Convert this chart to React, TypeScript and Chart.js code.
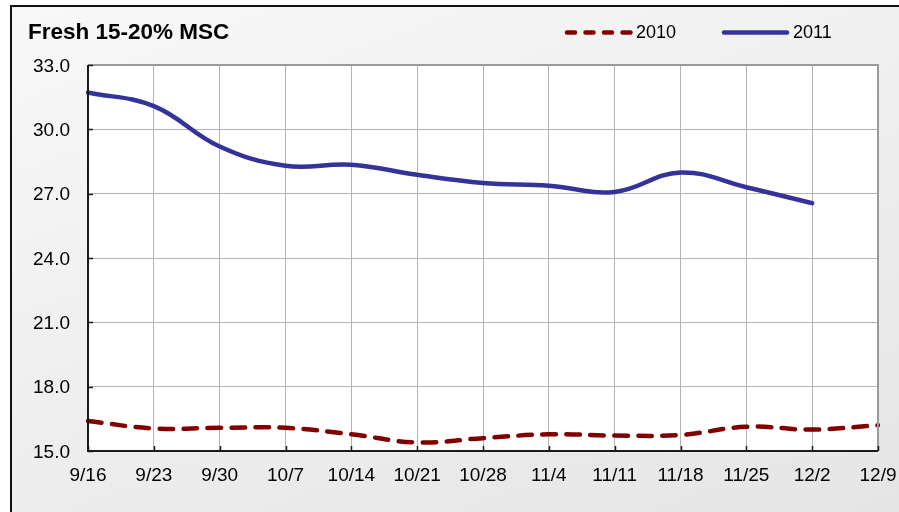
import React, { useEffect, useRef } from "react";
import { Chart, registerables } from "chart.js";

Chart.register(...registerables);

const TITLE = "Fresh 15-20% MSC";
const CATEGORIES = ["9/16", "9/23", "9/30", "10/7", "10/14", "10/21", "10/28", "11/4", "11/11", "11/18", "11/25", "12/2", "12/9"];
const SERIES_2010 = [16.4, 16.05, 16.08, 16.08, 15.78, 15.4, 15.6, 15.78, 15.72, 15.75, 16.13, 16.0, 16.2];
const SERIES_2011 = [31.72, 31.08, 29.2, 28.3, 28.35, 27.88, 27.5, 27.37, 27.08, 27.99, 27.3, 26.56, null];
const Y_MIN = 15;
const Y_MAX = 33;
const Y_STEP = 3;

const RED = "#800000";
const BLUE = "#333399";
const FONT = "'Liberation Sans', Arial, sans-serif";

const framePlugin = {
  id: "framePlugin",
  beforeDraw(chart: any) {
    const { ctx, chartArea: a } = chart;
    ctx.save();
    ctx.fillStyle = "#ffffff";
    ctx.fillRect(a.left, a.top, a.right - a.left, a.bottom - a.top);
    ctx.restore();
  },
  afterDatasetsDraw(chart: any) {
    const { ctx, chartArea: a, scales } = chart;
    ctx.save();
    ctx.strokeStyle = "#9a9a9a";
    ctx.lineWidth = 2;
    ctx.beginPath();
    ctx.moveTo(a.left, a.top);
    ctx.lineTo(a.right, a.top);
    ctx.lineTo(a.right, a.bottom);
    ctx.stroke();
    ctx.strokeStyle = "#1a1a1a";
    ctx.lineWidth = 2;
    ctx.beginPath();
    ctx.moveTo(a.left, a.top);
    ctx.lineTo(a.left, a.bottom);
    ctx.lineTo(a.right, a.bottom);
    ctx.stroke();
    ctx.lineWidth = 1.5;
    const y = scales.y;
    for (let v = Y_MIN; v <= Y_MAX; v += Y_STEP) {
      const py = Math.round(y.getPixelForValue(v)) + 0.5;
      ctx.beginPath();
      ctx.moveTo(a.left, py);
      ctx.lineTo(a.left + 5, py);
      ctx.stroke();
    }
    const x = scales.x;
    CATEGORIES.forEach((_, i) => {
      const px = Math.round(x.getPixelForValue(i)) + 0.5;
      ctx.beginPath();
      ctx.moveTo(px, a.bottom);
      ctx.lineTo(px, a.bottom - 5);
      ctx.stroke();
    });
    ctx.restore();
  },
  afterDraw(chart: any) {
    const { ctx } = chart;
    const ds = chart.data.datasets;
    const items = [
      { x0: 567, x1: 631, tx: 636, ds: ds[0], dash: [8, 10.5] },
      { x0: 724, x1: 787, tx: 793, ds: ds[1], dash: [] },
    ];
    const cy = 32.5;
    ctx.save();
    ctx.font = `18px ${FONT}`;
    ctx.textBaseline = "middle";
    ctx.textAlign = "left";
    items.forEach((it) => {
      ctx.strokeStyle = it.ds.borderColor;
      ctx.lineWidth = 4.5;
      ctx.lineCap = "round";
      ctx.setLineDash(it.dash);
      ctx.beginPath();
      ctx.moveTo(it.x0, cy);
      ctx.lineTo(it.x1, cy);
      ctx.stroke();
      ctx.setLineDash([]);
      ctx.fillStyle = "#000000";
      ctx.fillText(it.ds.label, it.tx, cy + 1);
    });
    ctx.restore();
  },
};

export default function App() {
  const ref = useRef<HTMLCanvasElement | null>(null);

  useEffect(() => {
    if (!ref.current) return;
    const chart = new Chart(ref.current, {
      type: "line",
      data: {
        labels: CATEGORIES,
        datasets: [
          {
            label: "2010",
            data: SERIES_2010,
            borderColor: RED,
            backgroundColor: RED,
            borderWidth: 4.5,
            borderDash: [13.5, 10.5],
            borderCapStyle: "round",
            pointRadius: 0,
            tension: 0.4,
            fill: false,
          },
          {
            label: "2011",
            data: SERIES_2011,
            borderColor: BLUE,
            backgroundColor: BLUE,
            borderWidth: 4.5,
            borderCapStyle: "round",
            pointRadius: 0,
            tension: 0.4,
            fill: false,
            spanGaps: false,
          },
        ],
      },
      options: {
        responsive: false,
        animation: false,
        events: [],
        layout: { padding: { left: 28, right: 21, top: 0, bottom: 0 } },
        plugins: {
          legend: { display: false },
          tooltip: { enabled: false },
          title: {
            display: true,
            text: TITLE,
            align: "start",
            color: "#000000",
            font: { family: FONT, size: 22.5, weight: "bold", lineHeight: 1.2 },
            padding: { top: 19, bottom: 19 },
          },
        },
        scales: {
          x: {
            type: "category",
            offset: false,
            grid: { color: "#b4b4b4", lineWidth: 1, drawTicks: false },
            border: { display: false },
            ticks: {
              color: "#000000",
              font: { family: FONT, size: 19 },
              padding: 13.5,
              maxRotation: 0,
              autoSkip: false,
            },
            afterFit(scale: any) {
              scale.height = 61;
              scale.paddingLeft = 0;
              scale.paddingRight = 0;
            },
          },
          y: {
            min: Y_MIN,
            max: Y_MAX,
            grid: { color: "#b4b4b4", lineWidth: 1, drawTicks: false },
            border: { display: false },
            ticks: {
              stepSize: Y_STEP,
              color: "#000000",
              font: { family: FONT, size: 19 },
              padding: 18,
              labelOffset: 1.5,
              callback: (v: any) => Number(v).toFixed(1),
            },
            afterFit(scale: any) {
              scale.width = 60;
            },
          },
        },
      },
      plugins: [framePlugin],
    });
    return () => chart.destroy();
  }, []);

  return (
    <div style={{ position: "fixed", left: 0, top: 0, width: 899, height: 512, overflow: "hidden" }}>
      <div
        style={{
          position: "absolute",
          left: 10,
          top: 5,
          width: 920,
          height: 540,
          border: "2px solid #111",
          background: "linear-gradient(160deg, #f8f8f8 0%, #ececec 60%, #e4e4e4 100%)",
        }}
      />
      <canvas ref={ref} width={899} height={512} style={{ position: "absolute", left: 0, top: 0 }} />
    </div>
  );
}
